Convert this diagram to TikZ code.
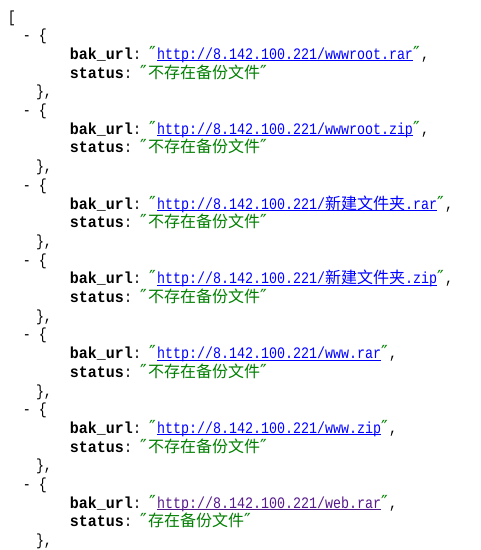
\documentclass[tikz,border=0pt]{standalone}
\usepackage{fontspec}
\newfontfamily\monof{Liberation Mono}[FakeStretch=0.8333]
\newfontfamily\keyf{Liberation Mono}[FakeStretch=0.9375]
\newfontfamily\cjkf{Noto Sans CJK SC}
\newfontfamily\quotef{DejaVu Sans}
\definecolor{linkblue}{HTML}{0000FF}
\definecolor{linkvisited}{HTML}{551A8B}
\definecolor{strgreen}{HTML}{008000}
\tikzset{
  txt/.style={anchor=base west, inner sep=0pt, outer sep=0pt, font=\fontsize{16}{16}\selectfont\monof},
  keytxt/.style={txt, font=\fontsize{16}{16}\selectfont\keyf\bfseries},
  underl/.style={line width=1pt},
}
\newcommand\qmark{\makebox[8pt][l]{\quotef\fontsize{18}{18}\selectfont ″}}
\newcommand\jentry[4]{%
  \pgfmathsetmacro\la{22+18.7*(1+4*#1)}%
  \pgfmathsetmacro\lb{22+18.7*(2+4*#1)}%
  \pgfmathsetmacro\lc{22+18.7*(3+4*#1)}%
  \pgfmathsetmacro\ld{22+18.7*(4+4*#1)}%
  \node[txt] (open#1) at (23,\la) {- \{};
  \node[keytxt] (k#1) at (70,\lb) {bak\_url};
  \node[txt] (kc#1) at (k#1.base east) {:};
  \node[txt, text=strgreen] (uq#1) at ([xshift=8pt]kc#1.base east) {\qmark};
  \node[txt, text=#3] (u#1) at (uq#1.base east) {http://8.142.100.221/#2};
  \draw[#3, underl] ([yshift=-1.5pt]u#1.base west) -- ([yshift=-1.5pt]u#1.base east);
  \node[txt, text=strgreen] (ue#1) at (u#1.base east) {\qmark};
  \node[txt] (uc#1) at (ue#1.base east) {,};
  \node[keytxt] (s#1) at (70,\lc) {status};
  \node[txt] (sc#1) at (s#1.base east) {:};
  \node[txt, text=strgreen] (sq#1) at ([xshift=8pt]sc#1.base east) {\qmark};
  \node[txt, text=strgreen] (sv#1) at (sq#1.base east) {\cjkf #4};
  \node[txt, text=strgreen] (se#1) at (sv#1.base east) {\qmark};
  \node[txt] (close#1) at (36,\ld) {\},};
}
\begin{document}
\begin{tikzpicture}[x=1pt,y=-1pt]
  \fill[white] (0,0) rectangle (481,550);
  \useasboundingbox (0,0) rectangle (481,550);
  \node[txt] (lb) at (8,22) {[};
  \jentry{0}{wwwroot.rar}{linkblue}{不存在备份文件}
  \jentry{1}{wwwroot.zip}{linkblue}{不存在备份文件}
  \jentry{2}{{\cjkf 新建文件夹}.rar}{linkblue}{不存在备份文件}
  \jentry{3}{{\cjkf 新建文件夹}.zip}{linkblue}{不存在备份文件}
  \jentry{4}{www.rar}{linkblue}{不存在备份文件}
  \jentry{5}{www.zip}{linkblue}{不存在备份文件}
  \jentry{6}{web.rar}{linkvisited}{存在备份文件}
\end{tikzpicture}
\end{document}
